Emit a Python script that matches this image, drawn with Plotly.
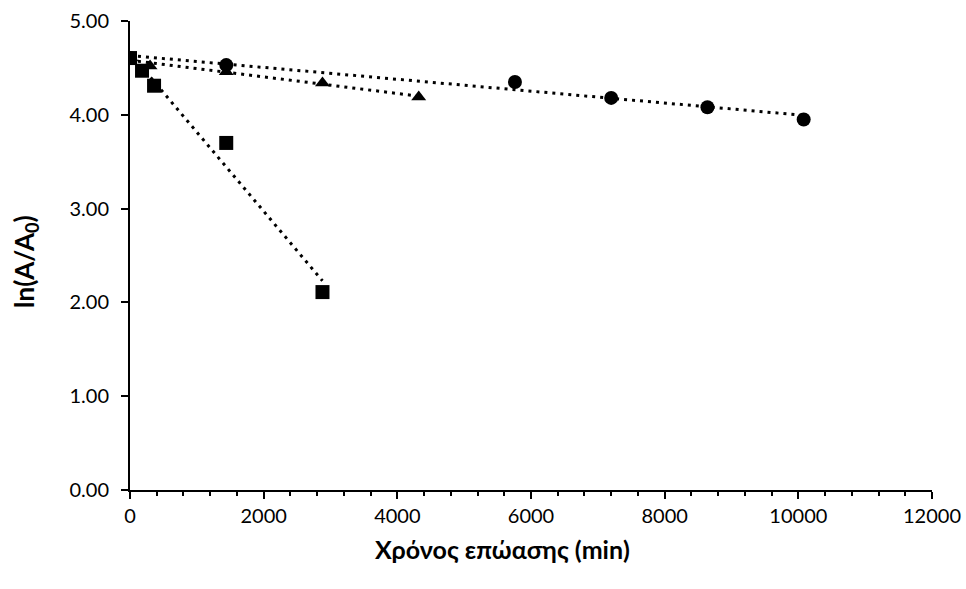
import numpy as np
import plotly.graph_objects as go

# Data (time in min, ln(A/A0))
x_sq = [0, 180, 360, 1440, 2880]
y_sq = [4.605, 4.47, 4.31, 3.70, 2.11]

x_tri = [0, 300, 1440, 2880, 4320]
y_tri = [4.605, 4.52, 4.46, 4.34, 4.19]

x_cir = [0, 1440, 5760, 7200, 8640, 10080]
y_cir = [4.605, 4.53, 4.35, 4.18, 4.08, 3.95]

x_ticks = [0, 2000, 4000, 6000, 8000, 10000, 12000]
y_ticks = [0, 1, 2, 3, 4, 5]

fig = go.Figure()

series = [
    (x_cir, y_cir, "circle", 14),
    (x_tri, y_tri, "triangle-up", 13),
    (x_sq, y_sq, "square", 14),
]

for xs, ys, sym, size in series:
    xa = np.array(xs, dtype=float)
    ya = np.array(ys, dtype=float)
    m, b = np.polyfit(xa, ya, 1)
    xt = np.array([xa.min(), xa.max()])
    fig.add_trace(go.Scatter(x=xt, y=m * xt + b, mode="lines",
                             line=dict(color="black", width=3, dash="3px,5px"),
                             showlegend=False, hoverinfo="skip"))
    fig.add_trace(go.Scatter(x=xs, y=ys, mode="markers",
                             marker=dict(symbol=sym, size=size, color="black"),
                             showlegend=False))

fig.update_layout(
    width=966, height=589,
    margin=dict(l=130, r=34, t=21, b=99, autoexpand=False),
    paper_bgcolor="white", plot_bgcolor="white",
    font=dict(family="Lato, Open Sans, sans-serif", size=20, color="black"),
    showlegend=False,
    annotations=[
        dict(text="<b>Χρόνος επώασης (min)</b>", xref="paper", yref="paper",
             x=(502 - 130) / 802, y=(490 - 549) / 469, xanchor="center", yanchor="middle",
             showarrow=False, font=dict(size=25)),
        dict(text="<b>ln(A/A<sub>0</sub>)</b>", xref="paper", yref="paper",
             x=(25 - 130) / 802, y=(490 - 262) / 469, xanchor="center", yanchor="middle",
             textangle=-90, showarrow=False, font=dict(size=26)),
    ],
)
fig.update_xaxes(
    range=[0, 12000], tickvals=x_ticks, ticktext=[str(v) for v in x_ticks],
    showline=True, linecolor="black", linewidth=2, showgrid=False, zeroline=False,
    ticks="outside", ticklen=7, tickwidth=2, tickcolor="black", ticklabeloverflow="allow",
    minor=dict(dtick=400, tick0=0, ticks="outside", ticklen=4, tickwidth=2, tickcolor="black", showgrid=False),
)
fig.update_yaxes(
    range=[0, 5], tickvals=y_ticks, tickformat=".2f",
    showline=True, linecolor="black", linewidth=2, showgrid=False, zeroline=False,
    ticks="outside", ticklen=7, tickwidth=2, tickcolor="black", ticklabelstandoff=8,
)

fig.write_html("out.html", config={"displayModeBar": False},
               post_script="document.body.style.margin='0';")
